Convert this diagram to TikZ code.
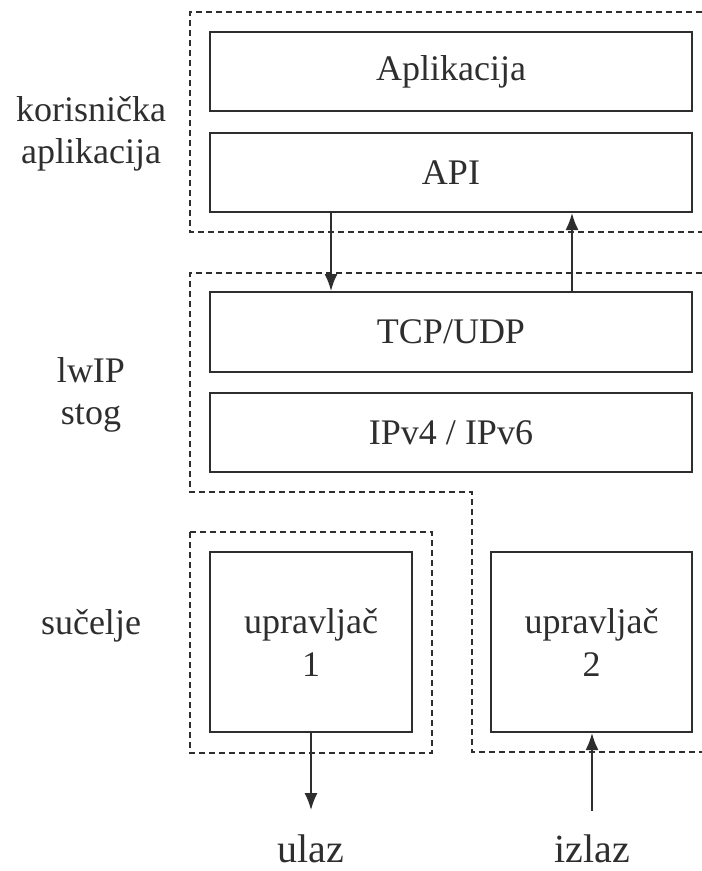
\documentclass[tikz,border=0pt]{standalone}
\usepackage{fontspec}
\setmainfont{Liberation Serif}
\usetikzlibrary{arrows.meta}
\definecolor{ink}{HTML}{2E2E2E}
\tikzset{
  layerbox/.style={draw=ink, line width=2pt, rectangle, inner sep=0pt, text=ink,
    font=\fontsize{36}{43}\selectfont, align=center},
  regionline/.style={draw=ink, line width=1.4pt, dash pattern=on 6pt off 4pt},
  sidelabel/.style={text=ink, font=\fontsize{36}{42}\selectfont, align=center, inner sep=0pt},
  iolabel/.style={text=ink, font=\fontsize{40}{46}\selectfont, inner sep=0pt, text depth=0pt},
  arr/.style={draw=ink, line width=1.8pt, -{Latex[length=17pt,width=13pt]}}
}
\begin{document}
\begin{tikzpicture}[x=1pt,y=-1pt]
\useasboundingbox[fill=white] (0,0) rectangle (702,871);
% dashed regions
\draw[regionline] (702,12) -- (190,12) -- (190,232) -- (702,232);
\draw[regionline] (702,273) -- (190,273) -- (190,492) -- (472,492) -- (472,752) -- (702,752);
\draw[regionline] (190,532) rectangle (432,753);
% layer boxes
\node[layerbox, minimum width=482pt, minimum height=79pt] (app) at (451,71.5) {Aplikacija};
\node[layerbox, minimum width=482pt, minimum height=79pt] (api) at (451,172.5) {API};
\node[layerbox, minimum width=482pt, minimum height=80pt] (tcp) at (451,332) {TCP/UDP};
\node[layerbox, minimum width=482pt, minimum height=79pt] (ip) at (451,432.5) {IPv4 / IPv6};
\node[layerbox, minimum width=202pt, minimum height=180pt] (drv1) at (311,642) {upravljač\\1};
\node[layerbox, minimum width=201pt, minimum height=180pt] (drv2) at (591.5,642) {upravljač\\2};
% side labels
\node[sidelabel] (lapp) at (91,134) {korisnička\\aplikacija};
\node[sidelabel] (lstack) at (91,395) {lwIP\\stog};
\node[sidelabel] (liface) at (91,626) {sučelje};
% io labels
\node[iolabel, anchor=base] (ulaz) at (311,862) {ulaz};
\node[iolabel, anchor=base] (izlaz) at (592,862) {izlaz};
% connectors
\draw[arr] ([xshift=-120pt]api.south) -- ([xshift=-120pt]tcp.north);
\draw[arr] ([xshift=121pt]tcp.north) -- ([xshift=121pt]api.south);
\draw[arr] (drv1.south) -- ([yshift=24pt]ulaz.north);
\draw[arr] ([yshift=23pt]izlaz.north) -- ([xshift=0.5pt]drv2.south);
\end{tikzpicture}
\end{document}
